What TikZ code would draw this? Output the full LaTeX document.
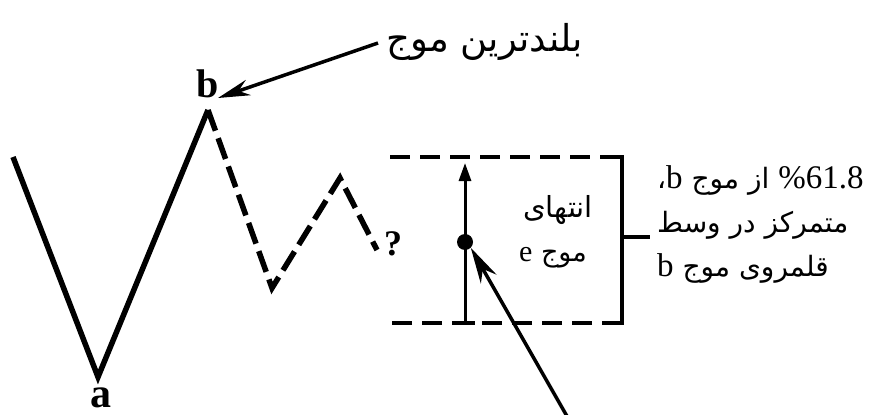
\documentclass[tikz,border=0pt]{standalone}
\usepackage{fontspec}
\setmainfont{Liberation Serif}
\newfontfamily\arabicfont[Script=Arabic]{DejaVu Sans}
\TeXXeTstate=1
\usetikzlibrary{arrows.meta}
\begin{document}
\begin{tikzpicture}[x=1pt,y=-1pt,
  wave/.style={line width=5.5pt, line join=miter, line cap=butt},
  wavedash/.style={wave, dash pattern=on 22pt off 8pt},
  boxline/.style={line width=3.5pt},
  boxdash/.style={boxline, dash pattern=on 20pt off 10pt},
  ptr/.style={line width=3.5pt, -{Stealth[length=32pt,width=16pt]}},
  lbl/.style={font=\fontsize{40}{42}\selectfont\bfseries, inner sep=0pt},
  ar/.style={font=\arabicfont\fontsize{28}{30}\selectfont, inner sep=0pt},
  artop/.style={font=\arabicfont\fontsize{37}{39}\selectfont, inner sep=0pt},
  arsmall/.style={font=\arabicfont\fontsize{29}{32}\selectfont, inner sep=0pt}]
\useasboundingbox (0,0) rectangle (884,415);
% wave
\coordinate (s) at (13,157);
\coordinate (a) at (98,377);
\coordinate (b) at (208,110);
\coordinate (t) at (272,288);
\coordinate (p) at (340,178);
\coordinate (e) at (377,250);
\draw[wave] (s) -- (a) -- (b);
\draw[wavedash] (b) -- (t) -- (p) -- (e);
\node[lbl, font=\fontsize{42}{44}\selectfont\bfseries] (la) at (101,398) {a};
\node[lbl] (lb) at (208,84) {b};
\node[font=\fontsize{36}{38}\selectfont\bfseries, inner sep=0pt] (q) at (393,244) {?};
% top label
\node[artop, anchor=west] (top) at (386,42) {\beginR بلندترین موج\endR};
\coordinate (topstart) at (378,43);
\coordinate (btip) at (218,98);
\draw[ptr] (topstart) -- (btip);
% box
\coordinate (tl) at (390,157);
\coordinate (tr) at (622,157);
\coordinate (br) at (622,323);
\coordinate (bl) at (390,323);
\draw[boxdash] (tl) -- (tr);
\draw[boxline, line cap=rect] (tr) -- (br);
\draw[boxdash] (br) -- (bl);
\coordinate (vbot) at (465,323);
\coordinate (vtop) at (465,163);
\draw[line width=3pt, -{Triangle[length=18pt,width=12pt]}] (vbot) -- (vtop);
\draw[line width=3.5pt] (455,323) -- (475,323);
\node[circle, fill, inner sep=0pt, minimum size=16pt] (dot) at (465,242) {};
\coordinate (tickend) at (650,237);
\draw[boxline] (622,237) -- (tickend);
\node[arsmall] (t1) at (558,210) {\beginR انتهای\endR};
\node[arsmall, font=\arabicfont\fontsize{27}{30}\selectfont] (t2) at (553,258) {\beginR موج {\rmfamily\fontsize{30}{32}\selectfont e}\endR};
% bottom arrow
\coordinate (bstart) at (568,418);
\draw[ptr, -{Stealth[length=36pt,width=18pt]}] (bstart) -- (dot.south east);
% right text
\node[ar, anchor=west] (r1) at (657,180) {\beginR{\rmfamily\fontsize{33}{35}\selectfont\beginL 61.8\endL\%} از موج {\rmfamily\fontsize{33}{35}\selectfont b}،\endR};
\node[ar, anchor=west] (r2) at (657,225) {\beginR متمرکز در وسط\endR};
\node[ar, anchor=west] (r3) at (657,268) {\beginR قلمروی موج {\rmfamily\fontsize{33}{35}\selectfont b}\endR};
\end{tikzpicture}
\end{document}
